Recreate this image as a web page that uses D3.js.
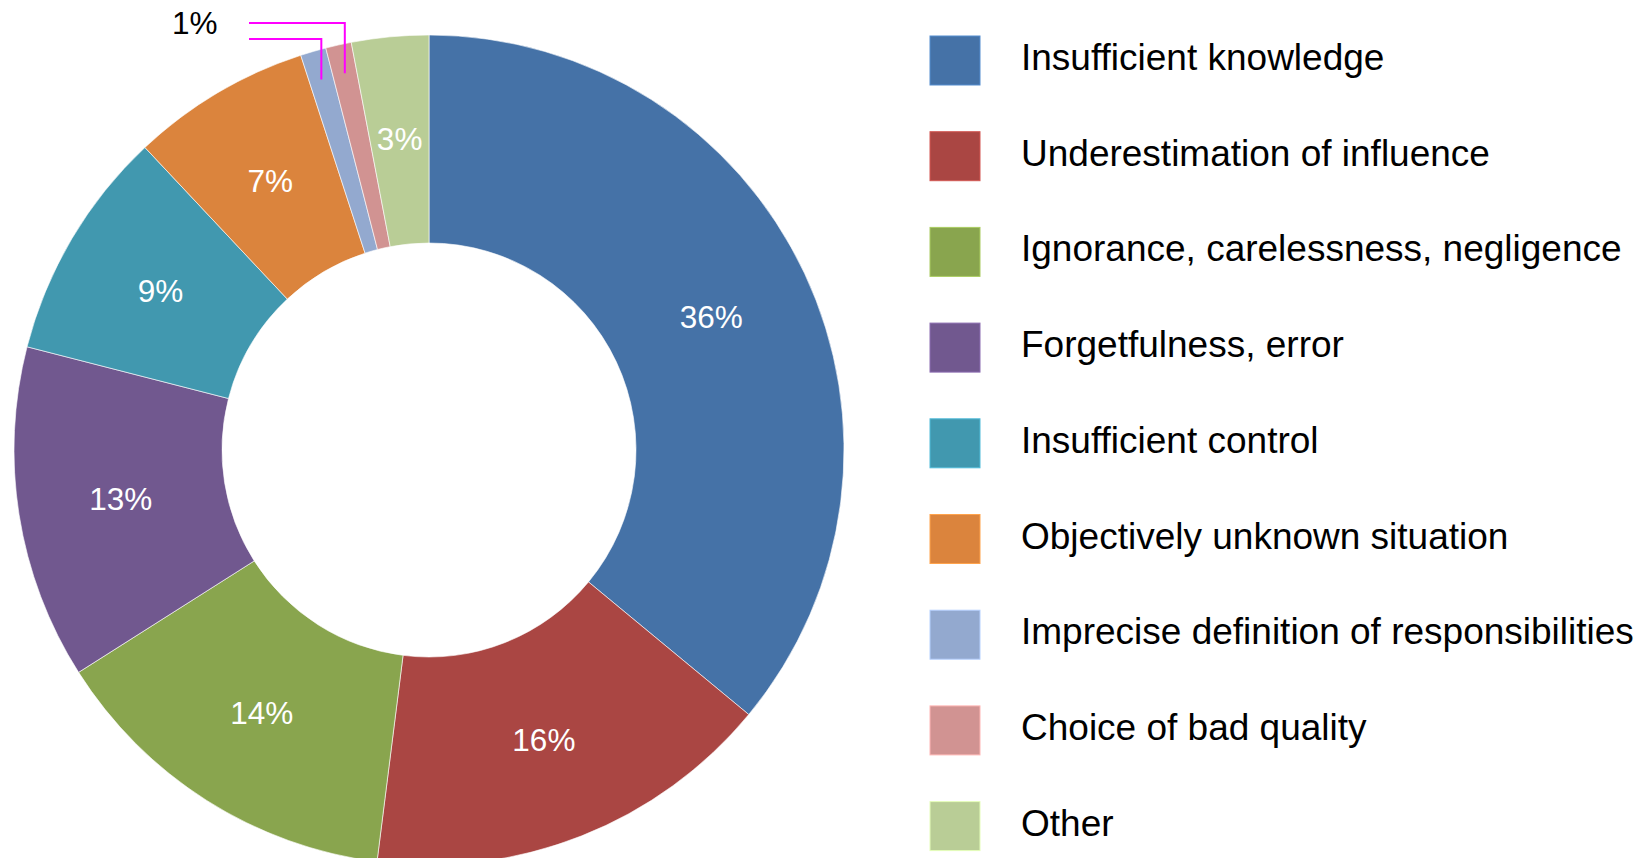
<!DOCTYPE html>
<html>
<head>
<meta charset="utf-8">
<script src="https://cdn.jsdelivr.net/npm/d3@7"></script>
<style>
  html, body { margin: 0; padding: 0; background: #fff; }
  svg { display: block; font-family: "Liberation Sans", Arial, sans-serif; }
</style>
</head>
<body>
<div id="chart"></div>
<script>
// causes and their shares (percent)
const categories = [
  'Insufficient knowledge',
  'Underestimation of influence',
  'Ignorance, carelessness, negligence',
  'Forgetfulness, error',
  'Insufficient control',
  'Objectively unknown situation',
  'Imprecise definition of responsibilities',
  'Choice of bad quality',
  'Other'
];
const values = [36, 16, 14, 13, 9, 7, 1, 1, 3];
const colors = ['#4572A7', '#AA4643', '#89A54E', '#71588F', '#4198AF', '#DB843D', '#93A9CF', '#D19392', '#B9CD96'];
// slices whose label sits outside with a leader line
const calloutLabel = '1%';
const calloutIdx = [7, 6];

const width = 1646, height = 858;
const cx = 429, cy = 450, outerR = 415, innerR = 207;

const svg = d3.select('#chart').append('svg')
  .attr('width', width)
  .attr('height', height);

const pie = d3.pie().sort(null).value(d => d)(values);
const arc = d3.arc().innerRadius(innerR).outerRadius(outerR);
const labelR = 312;
const labelArc = d3.arc().innerRadius(labelR).outerRadius(labelR);

const g = svg.append('g').attr('transform', `translate(${cx},${cy})`);

g.selectAll('path.slice')
  .data(pie)
  .enter().append('path')
  .attr('class', 'slice')
  .attr('d', arc)
  .attr('fill', (d, i) => colors[i])
  .attr('stroke', 'rgba(255,255,255,0.6)')
  .attr('stroke-width', 1);

// inside labels (skip the tiny slices)
g.selectAll('text.pct')
  .data(pie.filter((d, i) => !calloutIdx.includes(i)))
  .enter().append('text')
  .attr('class', 'pct')
  .attr('transform', d => `translate(${labelArc.centroid(d)})`)
  .attr('text-anchor', 'middle')
  .attr('dy', '0.35em')
  .attr('fill', '#fff')
  .attr('font-size', 31.5)
  .text(d => d.data + '%');

// magenta leader lines for the 1% slices
const levels = [23 - cy, 39 - cy];
const pointArc = d3.arc().innerRadius(outerR * 0.93).outerRadius(outerR * 0.93);
calloutIdx.forEach((idx, k) => {
  const [px, py] = pointArc.centroid(pie[idx]);
  g.append('path')
    .attr('d', d3.line()([[249 - cx, levels[k]], [px, levels[k]], [px, py]]))
    .attr('fill', 'none')
    .attr('stroke', '#FF00FF')
    .attr('stroke-width', 2);
});
svg.append('text')
  .attr('x', 172)
  .attr('y', 34)
  .attr('font-size', 31.5)
  .attr('fill', '#000')
  .text(calloutLabel);

// legend
const legend = svg.append('g').attr('transform', 'translate(930,36)');
const rowH = 95.7;
const item = legend.selectAll('g.item')
  .data(categories)
  .enter().append('g')
  .attr('class', 'item')
  .attr('transform', (d, i) => `translate(0,${i * rowH})`);

item.append('rect')
  .attr('width', 50)
  .attr('height', 49)
  .attr('fill', (d, i) => colors[i])
  .attr('stroke', (d, i) => d3.color(colors[i]).brighter(0.6))
  .attr('stroke-width', 1);

item.append('text')
  .attr('x', 91)
  .attr('y', 34)
  .attr('font-size', 37)
  .attr('fill', '#000')
  .text(d => d);
</script>
</body>
</html>
